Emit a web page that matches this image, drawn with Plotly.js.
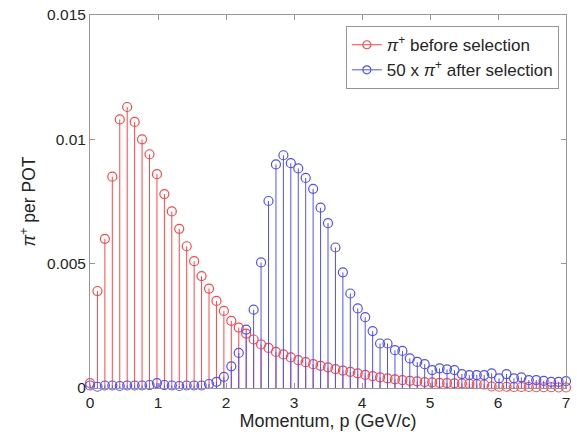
<!DOCTYPE html>
<html><head><meta charset="utf-8">
<script src="https://cdn.plot.ly/plotly-3.0.1.min.js"></script>
<style>html,body{margin:0;padding:0;background:#fff}#chart{width:577px;height:441px}</style>
</head><body><div id="chart"></div>
<script>
// Momentum grid: 65 points from 0 to 7 GeV/c
const momentum = Array.from({length: 65}, (_, i) => i * 7 / 64);

const piBefore = [
  0.0002, 0.0039, 0.0060, 0.0085, 0.0108, 0.0113, 0.0107, 0.0100, 0.0094, 0.0086,
  0.0078, 0.0071, 0.0064, 0.0057, 0.0051, 0.0045, 0.0040, 0.0035, 0.0031, 0.0027,
  0.00243, 0.00219, 0.00195, 0.00175, 0.00161, 0.00145, 0.00135, 0.00123, 0.00112, 0.00104,
  0.00096, 0.00089, 0.00083, 0.00076, 0.00070, 0.00065, 0.00059, 0.00053, 0.00048, 0.00043,
  0.00039, 0.00035, 0.00032, 0.00029, 0.00027, 0.00024, 0.00023, 0.00021, 0.00020, 0.00019,
  0.00018, 0.00017, 0.00015, 0.00014, 0.00006, 0.00005, 0.00005, 0.00004, 0.00004, 0.00004,
  0.00003, 0.00003, 0.00003, 0.00002, 0.00002
];

const piAfter50 = [
  0.00010, 0.00005, 0.00010, 0.00010, 0.00008, 0.00010, 0.00010, 0.00010, 0.00012, 0.00020,
  0.00012, 0.00010, 0.00008, 0.00010, 0.00010, 0.00010, 0.00016, 0.00025, 0.00045, 0.00087,
  0.00141, 0.00235, 0.00315, 0.00505, 0.00752, 0.00899, 0.00936, 0.00904, 0.00883, 0.00845,
  0.00801, 0.00725, 0.00663, 0.00565, 0.00465, 0.00380, 0.00320, 0.00285, 0.00229, 0.00179,
  0.00179, 0.00152, 0.00149, 0.00119, 0.00105, 0.00096, 0.00072, 0.00079, 0.00075, 0.00072,
  0.00056, 0.00052, 0.00052, 0.00052, 0.00059, 0.00039, 0.00056, 0.00039, 0.00043, 0.00032,
  0.00032, 0.00029, 0.00025, 0.00025, 0.00028
];

const seriesNames = ['<i>π</i><sup>+</sup> before selection', '50 x <i>π</i><sup>+</sup> after selection'];
const seriesColors = ['rgb(255,70,70)', 'rgb(80,80,255)'];

function stemTrace(xs, ys, color) {
  const x = [], y = [];
  xs.forEach((xv, i) => { x.push(xv, xv, null); y.push(0, ys[i], null); });
  return {
    x, y, type: 'scatter', mode: 'lines', showlegend: false,
    line: {color, width: 1}, hoverinfo: 'skip'
  };
}
function headTrace(xs, ys, color) {
  return {
    x: xs, y: ys, type: 'scatter', mode: 'markers', showlegend: false,
    marker: {symbol: 'circle-open', size: 9, color, line: {width: 1.2, color}},
    cliponaxis: false
  };
}
function legendTrace(name, color) {
  return {
    x: [null], y: [null], name, type: 'scatter', mode: 'lines+markers',
    line: {color, width: 1},
    marker: {symbol: 'circle-open', size: 8, color, line: {width: 1.2, color}}
  };
}

const traces = [
  stemTrace(momentum, piBefore, seriesColors[0]),
  headTrace(momentum, piBefore, seriesColors[0]),
  stemTrace(momentum, piAfter50, seriesColors[1]),
  headTrace(momentum, piAfter50, seriesColors[1]),
  legendTrace(seriesNames[0], seriesColors[0]),
  legendTrace(seriesNames[1], seriesColors[1])
];

const textColor = 'rgb(38,38,38)';
const axisCommon = {
  showline: true, mirror: 'ticks', linecolor: 'rgb(150,150,150)', linewidth: 1,
  ticks: 'inside', ticklen: 5, tickcolor: 'rgb(150,150,150)', tickwidth: 1,
  showgrid: false, zeroline: false,
  tickfont: {family: 'Liberation Sans, Arial, sans-serif', size: 15.5, color: textColor}
};

const layout = {
  width: 577, height: 441,
  margin: {l: 90, r: 11, t: 15, b: 53},
  paper_bgcolor: '#fff', plot_bgcolor: '#fff',
  showlegend: true,
  font: {family: 'Liberation Sans, Arial, sans-serif', color: textColor},
  xaxis: Object.assign({}, axisCommon, {
    range: [0, 7], tickvals: [0,1,2,3,4,5,6,7], ticktext: ['0','1','2','3','4','5','6','7'],
    title: {text: 'Momentum, p (GeV/c)', font: {size: 18, color: textColor}, standoff: 2}
  }),
  yaxis: Object.assign({}, axisCommon, {
    range: [0, 0.015], tickvals: [0, 0.005, 0.01, 0.015], ticktext: ['0','0.005','0.01','0.015'],
    title: {text: '<i>π</i><sup>+</sup> per POT', font: {size: 17.5, color: textColor}, standoff: 6}
  }),
  legend: {
    x: 0.985, y: 0.97, xanchor: 'right', yanchor: 'top',
    bordercolor: 'rgb(150,150,150)', borderwidth: 1, bgcolor: '#fff',
    font: {size: 17, color: textColor}, itemwidth: 30, tracegroupgap: 0
  }
};

Plotly.newPlot('chart', traces, layout, {staticPlot: true});
</script></body></html>
